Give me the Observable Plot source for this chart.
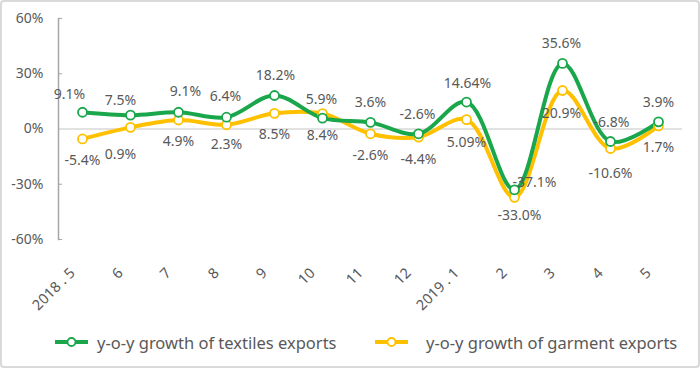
<!DOCTYPE html>
<html>
<head>
<meta charset="utf-8">
<script src="https://cdn.jsdelivr.net/npm/d3@7"></script>
<script src="https://cdn.jsdelivr.net/npm/@observablehq/plot@0.6"></script>
<style>
  html, body { margin: 0; padding: 0; background: #fff; }
  #wrap { position: relative; width: 700px; height: 368px; overflow: hidden; background: #fff; font-family: 'Noto Sans', sans-serif; }
  #border { position: absolute; left: 0; top: 0; width: 700px; height: 368px; box-sizing: border-box; border: 2px solid #d9d9d9; border-radius: 4px; pointer-events: none; }
  #chart { position: absolute; left: 0; top: 0; }
  #legend { position: absolute; top: 330px; left: 0; width: 700px; height: 24px; color: #595959; font-size: 16.5px; }
  .item { position: absolute; top: 0; display: flex; align-items: center; height: 24px; white-space: nowrap; }
</style>
</head>
<body>
<div id="wrap">
  <div id="chart"></div>
  <div id="legend"></div>
  <div id="border"></div>
</div>
<script>
const categories = ["2018 . 5","6","7","8","9","10","11","12","2019 . 1","2","3","4","5"];
const textiles = [9.1, 7.5, 9.1, 6.4, 18.2, 5.9, 3.6, -2.6, 14.64, -33.0, 35.6, -6.8, 3.9];
const garment = [-5.4, 0.9, 4.9, 2.3, 8.5, 8.4, -2.6, -4.4, 5.09, -37.1, 20.9, -10.6, 1.7];
const textileLabels = ["9.1%","7.5%","9.1%","6.4%","18.2%","5.9%","3.6%","-2.6%","14.64%","-37.1%","35.6%","-6.8%","3.9%"];
const garmentLabels = ["-5.4%","0.9%","4.9%","2.3%","8.5%","8.4%","-2.6%","-4.4%","5.09%","-33.0%","20.9%","-10.6%","1.7%"];
const yTicks = [-60, -30, 0, 30, 60];
const seriesNames = ["y-o-y growth of textiles exports", "y-o-y growth of garment exports"];

// label placement offsets (style)
const textileDx = [-13,-10,7,-1,1,-1,0,-1,1,20,-1,1,0];
const textileDy = [-18,-15,-21,-21,-20,-19,-20,-19,-19,-7,-20,-19,-19];
const garmentDx = [0,-10,0,0,0,0,0,0,0,5,-1,0,0];
const garmentDy = [22,27,22,20,21,22,22,22,23,18,23,25,22];

const GREEN = "#1aa64b";
const YELLOW = "#ffc000";
const TEXT = "#595959";

const rows = categories.map((c, i) => ({cat: c, textiles: textiles[i], garment: garment[i], tl: textileLabels[i], gl: garmentLabels[i]}));

const labelMarks = [];
rows.forEach((r, i) => {
  labelMarks.push(Plot.text([r], {x: "cat", y: "garment", text: "gl", dx: garmentDx[i], dy: garmentDy[i], fill: TEXT, fontSize: 14}));
  labelMarks.push(Plot.text([r], {x: "cat", y: "textiles", text: "tl", dx: textileDx[i], dy: textileDy[i], fill: TEXT, fontSize: 14}));
});

const chart = Plot.plot({
  width: 700,
  height: 368,
  marginTop: 18,
  marginBottom: 129,
  marginLeft: 58,
  marginRight: 18,
  style: {fontFamily: "'Noto Sans', sans-serif", fontSize: "14px", color: TEXT, background: "transparent", overflow: "visible"},
  x: {type: "point", domain: categories, padding: 0.5},
  y: {domain: [-60, 60]},
  marks: [
    Plot.ruleY([0], {stroke: "#d9d9d9", strokeWidth: 1.5}),
    Plot.frame({anchor: "left", stroke: "#a6a6a6", strokeWidth: 1.5}),
    Plot.axisY({ticks: yTicks, tickFormat: d => d + "%", tickSize: 0, tickPadding: 15, label: null, fontSize: 14, fill: TEXT}),
    Plot.axisY({ticks: [-60, -30, 30, 60], tickFormat: () => "", tickSize: 4, dx: 4, label: null, stroke: "#a6a6a6"}),
    Plot.axisX({tickSize: 0, tickRotate: -45, tickPadding: 31, dx: -10, label: null, fontSize: 14.5, fill: TEXT}),
    Plot.line(rows, {x: "cat", y: "garment", stroke: YELLOW, strokeWidth: 4, curve: "catmull-rom"}),
    Plot.line(rows, {x: "cat", y: "textiles", stroke: GREEN, strokeWidth: 4, curve: "catmull-rom"}),
    Plot.dot(rows, {x: "cat", y: "garment", r: 4.5, fill: "white", stroke: YELLOW, strokeWidth: 1.8}),
    Plot.dot(rows, {x: "cat", y: "textiles", r: 4.5, fill: "white", stroke: GREEN, strokeWidth: 1.8}),
    ...labelMarks
  ]
});
document.getElementById("chart").appendChild(chart);

const legend = document.getElementById("legend");
const colors = [GREEN, YELLOW];
const lefts = [55, 375];
const gaps = [9, 18];
seriesNames.forEach((name, i) => {
  const item = document.createElement("div");
  item.className = "item";
  item.style.left = lefts[i] + "px";
  item.innerHTML = `<svg width="33" height="12" style="margin-right:${gaps[i]}px"><line x1="0" y1="6" x2="33" y2="6" stroke="${colors[i]}" stroke-width="4"/><circle cx="16.5" cy="6" r="4" fill="white" stroke="${colors[i]}" stroke-width="1.8"/></svg><span>${name}</span>`;
  legend.appendChild(item);
});
</script>
</body>
</html>
